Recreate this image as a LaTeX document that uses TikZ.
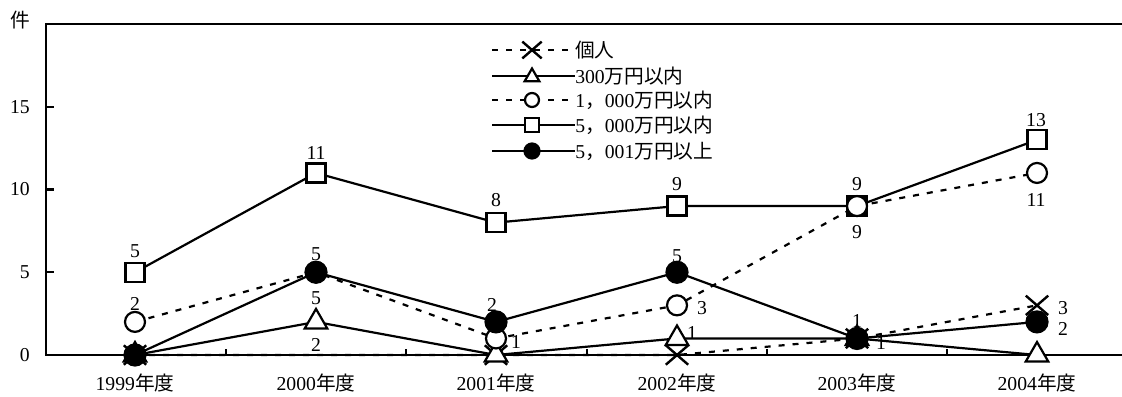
\documentclass[tikz,border=0pt]{standalone}
\usepackage{fontspec}
\setmainfont{Liberation Serif}
\newfontfamily\cjk{Noto Sans CJK JP}
\usetikzlibrary{shapes.geometric,shapes.misc}

\newlength{\du}
\setlength{\du}{0.025cm}

\tikzset{
  frameline/.style={line width=2.2\du},
  solidline/.style={line width=2.2\du},
  dotline/.style={line width=2.2\du, dash pattern=on 6\du off 8\du},
  mkcross/.style={cross out, draw, line width=2.4\du, minimum width=#1, minimum height=0.85*#1, inner sep=0pt},
  mkcross/.default=20\du,
  mktri/.style={regular polygon, regular polygon sides=3, draw, fill=white, line width=2.2\du, minimum size=#1, inner sep=0pt},
  mktri/.default=26\du,
  mkcirc/.style={circle, draw, fill=white, line width=2.2\du, minimum size=#1, inner sep=0pt},
  mkcirc/.default=20\du,
  mksq/.style={rectangle, draw, fill=white, line width=2.2\du, minimum size=#1, inner sep=0pt},
  mksq/.default=19\du,
  mkdot/.style={circle, draw, fill=black, line width=2.2\du, minimum size=#1, inner sep=0pt},
  mkdot/.default=21\du,
  numtext/.style={inner sep=0pt, font=\fontsize{14}{16}\selectfont},
}

\begin{document}
\begin{tikzpicture}
\pgftransformxscale{1.000000}
\pgftransformyscale{-1.000000}
\useasboundingbox (0\du,0\du) rectangle (1122\du,396\du);
% frame and ticks
\draw[frameline] (1122\du,24\du) -- (46\du,24\du) -- (46\du,355\du) -- (1122\du,355\du);
\foreach \yy in {272.25,189.5,106.75}
  \draw[frameline] (46\du,\yy\du) -- (54\du,\yy\du);
\foreach \xx in {226,406,587,767,947}
  \draw[frameline] (\xx\du,355\du) -- (\xx\du,349\du);
% axis labels
\node[numtext] (unit) at (20\du,20\du) {{\cjk 件}};
\node[numtext, anchor=east] (ya) at (30\du,355\du) {0};
\node[numtext, anchor=east] (yb) at (30\du,272.25\du) {5};
\node[numtext, anchor=east] (yc) at (30\du,189.5\du) {10};
\node[numtext, anchor=east] (yd) at (30\du,106.75\du) {15};
\node[numtext] (xa) at (135\du,383\du) {1999{\cjk 年度}};
\node[numtext] (xb) at (316\du,383\du) {2000{\cjk 年度}};
\node[numtext] (xc) at (496\du,383\du) {2001{\cjk 年度}};
\node[numtext] (xd) at (677\du,383\du) {2002{\cjk 年度}};
\node[numtext] (xe) at (857\du,383\du) {2003{\cjk 年度}};
\node[numtext] (xf) at (1037\du,383\du) {2004{\cjk 年度}};
% data points
\coordinate (ko1) at (135\du,355\du);
\coordinate (ko2) at (316\du,355\du);
\coordinate (ko3) at (496\du,355\du);
\coordinate (ko4) at (677\du,355\du);
\coordinate (ko5) at (857\du,338.45\du);
\coordinate (ko6) at (1037\du,305.35\du);
\coordinate (tri1) at (135\du,355\du);
\coordinate (tri2) at (316\du,321.9\du);
\coordinate (tri3) at (496\du,355\du);
\coordinate (tri4) at (677\du,338.45\du);
\coordinate (tri5) at (857\du,338.45\du);
\coordinate (tri6) at (1037\du,355\du);
\coordinate (mid1) at (135\du,321.9\du);
\coordinate (mid2) at (316\du,272.25\du);
\coordinate (mid3) at (496\du,338.45\du);
\coordinate (mid4) at (677\du,305.35\du);
\coordinate (mid5) at (857\du,206.05\du);
\coordinate (mid6) at (1037\du,172.95\du);
\coordinate (sq1) at (135\du,272.25\du);
\coordinate (sq2) at (316\du,172.95\du);
\coordinate (sq3) at (496\du,222.6\du);
\coordinate (sq4) at (677\du,206.05\du);
\coordinate (sq5) at (857\du,206.05\du);
\coordinate (sq6) at (1037\du,139.85\du);
\coordinate (big1) at (135\du,355\du);
\coordinate (big2) at (316\du,272.25\du);
\coordinate (big3) at (496\du,321.9\du);
\coordinate (big4) at (677\du,272.25\du);
\coordinate (big5) at (857\du,338.45\du);
\coordinate (big6) at (1037\du,321.9\du);
% series lines
\draw[dotline] (ko1) -- (ko2) -- (ko3) -- (ko4) -- (ko5) -- (ko6);
\draw[solidline] (tri1) -- (tri2) -- (tri3) -- (tri4) -- (tri5) -- (tri6);
\draw[dotline] (mid1) -- (mid2) -- (mid3) -- (mid4) -- (mid5) -- (mid6);
\draw[solidline] (sq1) -- (sq2) -- (sq3) -- (sq4) -- (sq5) -- (sq6);
\draw[solidline] (big1) -- (big2) -- (big3) -- (big4) -- (big5) -- (big6);
% markers
\foreach \i in {1,3,4,5,6} \node[mkcross] (mko\i) at (ko\i) {};
\foreach \i in {1,...,6} \node[mktri] (mtri\i) at (tri\i) {};
\foreach \i in {1,...,6} \node[mksq] (msq\i) at (sq\i) {};
\foreach \i in {1,...,6} \node[mkcirc] (mmid\i) at (mid\i) {};
\foreach \i in {1,...,6} \node[mkdot] (mbig\i) at (big\i) {};
% value labels
\node[numtext] (lsq1) at (135\du,251\du) {5};
\node[numtext] (lsq2) at (316\du,153\du) {11};
\node[numtext] (lsq3) at (496\du,200\du) {8};
\node[numtext] (lsq4) at (677\du,184\du) {9};
\node[numtext] (lsq5) at (857\du,184\du) {9};
\node[numtext] (lsq6) at (1036\du,120\du) {13};
\node[numtext] (lmid1) at (135\du,304\du) {2};
\node[numtext] (lmid2) at (316\du,298\du) {5};
\node[numtext] (lmid3) at (516\du,342\du) {1};
\node[numtext] (lmid4) at (702\du,308\du) {3};
\node[numtext] (lmid5) at (857\du,232\du) {9};
\node[numtext] (lmid6) at (1036\du,200\du) {11};
\node[numtext] (ltri2) at (316\du,345\du) {2};
\node[numtext] (ltri4) at (692\du,333\du) {1};
\node[numtext] (lbig2) at (316\du,254\du) {5};
\node[numtext] (lbig3) at (492\du,305\du) {2};
\node[numtext] (lbig4) at (677\du,256\du) {5};
\node[numtext] (lbig5) at (857\du,321\du) {1};
\node[numtext] (lbig6) at (1063\du,329\du) {2};
\node[numtext] (lko5) at (881\du,343\du) {1};
\node[numtext] (lko6) at (1063\du,308\du) {3};
% legend
\coordinate (lgs1) at (492\du,50\du);
\coordinate (lgs2) at (492\du,76\du);
\coordinate (lgs3) at (492\du,100\du);
\coordinate (lgs4) at (492\du,125\du);
\coordinate (lgs5) at (492\du,151\du);
\node[numtext, anchor=west] (lgt1) at (575\du,50\du) {{\cjk 個人}};
\node[numtext, anchor=west] (lgt2) at (575\du,76\du) {300{\cjk 万円以内}};
\node[numtext, anchor=west] (lgt3) at (575\du,100\du) {1{\cjk ，}000{\cjk 万円以内}};
\node[numtext, anchor=west] (lgt4) at (575\du,125\du) {5{\cjk ，}000{\cjk 万円以内}};
\node[numtext, anchor=west] (lgt5) at (575\du,151\du) {5{\cjk ，}001{\cjk 万円以上}};
\draw[dotline] (lgs1) -- (lgt1.west);
\draw[solidline] (lgs2) -- (lgt2.west);
\draw[dotline] (lgs3) -- (lgt3.west);
\draw[solidline] (lgs4) -- (lgt4.west);
\draw[solidline] (lgs5) -- (lgt5.west);
\node[mkcross=17\du] (lgm1) at (532\du,50\du) {};
\node[mktri=17\du] (lgm2) at (532\du,77\du) {};
\node[mkcirc=14\du] (lgm3) at (532\du,100\du) {};
\node[mksq=14\du] (lgm4) at (532\du,125\du) {};
\node[mkdot=15\du] (lgm5) at (532\du,151\du) {};
\end{tikzpicture}
\end{document}
